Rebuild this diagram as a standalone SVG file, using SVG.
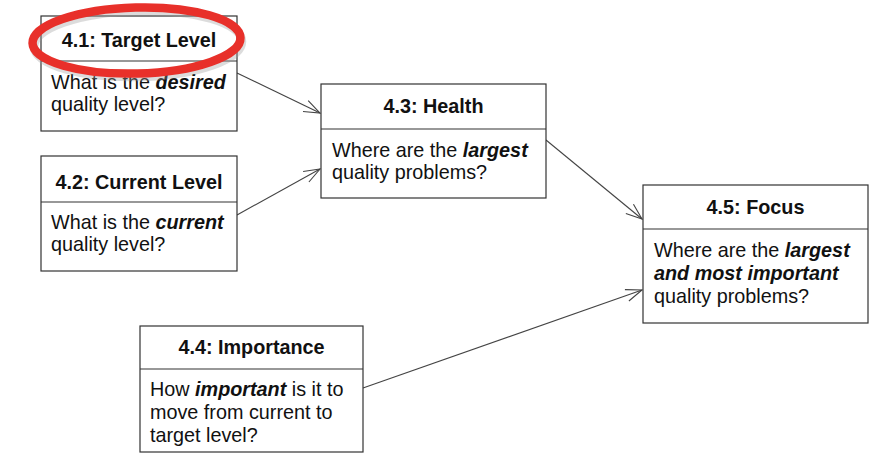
<svg xmlns="http://www.w3.org/2000/svg" width="896" height="471" viewBox="0 0 896 471">
<style>
.box{fill:#fff;stroke:#333;stroke-width:1.2}
.div{stroke:#333;stroke-width:1.2}
.t{font-family:"Liberation Sans",Arial,sans-serif;font-size:19.8px;fill:#111}
.h{font-weight:bold;text-anchor:middle}
.bi{font-weight:bold;font-style:italic}
.con{fill:none;stroke:#444;stroke-width:1.1}
</style>
<defs>
<marker id="arr" markerUnits="userSpaceOnUse" markerWidth="20" markerHeight="16" refX="17" refY="8" orient="auto">
<path d="M1,2 L17,8 L1,14" fill="none" stroke="#444" stroke-width="1.1"/>
</marker>
</defs>
<rect width="896" height="471" fill="#fff"/>
<g id="connectors">
<line class="con" x1="237" y1="73" x2="320" y2="113" marker-end="url(#arr)"/>
<line class="con" x1="237" y1="215" x2="320" y2="169" marker-end="url(#arr)"/>
<line class="con" x1="546" y1="140" x2="642" y2="219" marker-end="url(#arr)"/>
<line class="con" x1="363" y1="388" x2="642" y2="290" marker-end="url(#arr)"/>
</g>
<g id="n41">
<rect class="box" x="41" y="16" width="196" height="115"/>
<line class="div" x1="41" y1="61" x2="237" y2="61"/>
<text class="t h" x="139" y="47">4.1: Target Level</text>
<text class="t" x="51" y="89">What is the <tspan class="bi">desired</tspan></text>
<text class="t" x="51" y="111">quality level?</text>
</g>
<g id="n42">
<rect class="box" x="41" y="156" width="196" height="115"/>
<line class="div" x1="41" y1="202" x2="237" y2="202"/>
<text class="t h" x="139" y="189">4.2: Current Level</text>
<text class="t" x="51" y="229">What is the <tspan class="bi">current</tspan></text>
<text class="t" x="51" y="251">quality level?</text>
</g>
<g id="n43">
<rect class="box" x="321" y="84" width="225" height="114"/>
<line class="div" x1="321" y1="129" x2="546" y2="129"/>
<text class="t h" x="433.5" y="113">4.3: Health</text>
<text class="t" x="332" y="157">Where are the <tspan class="bi">largest</tspan></text>
<text class="t" x="332" y="179">quality problems?</text>
</g>
<g id="n45">
<rect class="box" x="643" y="185" width="225" height="138"/>
<line class="div" x1="643" y1="229" x2="868" y2="229"/>
<text class="t h" x="755.5" y="214">4.5: Focus</text>
<text class="t" x="654" y="257">Where are the <tspan class="bi">largest</tspan></text>
<text class="t bi" x="654" y="280">and most important</text>
<text class="t" x="654" y="303">quality problems?</text>
</g>
<g id="n44">
<rect class="box" x="140" y="326" width="223" height="126"/>
<line class="div" x1="140" y1="369" x2="363" y2="369"/>
<text class="t h" x="251.5" y="354">4.4: Importance</text>
<text class="t" x="150" y="396">How <tspan class="bi">important</tspan> is it to</text>
<text class="t" x="150" y="419">move from current to</text>
<text class="t" x="150" y="442">target level?</text>
</g>
<g id="highlight">
<ellipse cx="137" cy="42" rx="104" ry="33" fill="none" stroke="#9a9a9a" stroke-opacity="0.35" stroke-width="8.5" transform="rotate(-1.5 137 42) translate(1 2)"/>
<ellipse cx="136.5" cy="40.5" rx="104" ry="33" fill="none" stroke="#e8302a" stroke-width="8.5" transform="rotate(-1.5 136.5 40.5)"/>
</g>
</svg>
